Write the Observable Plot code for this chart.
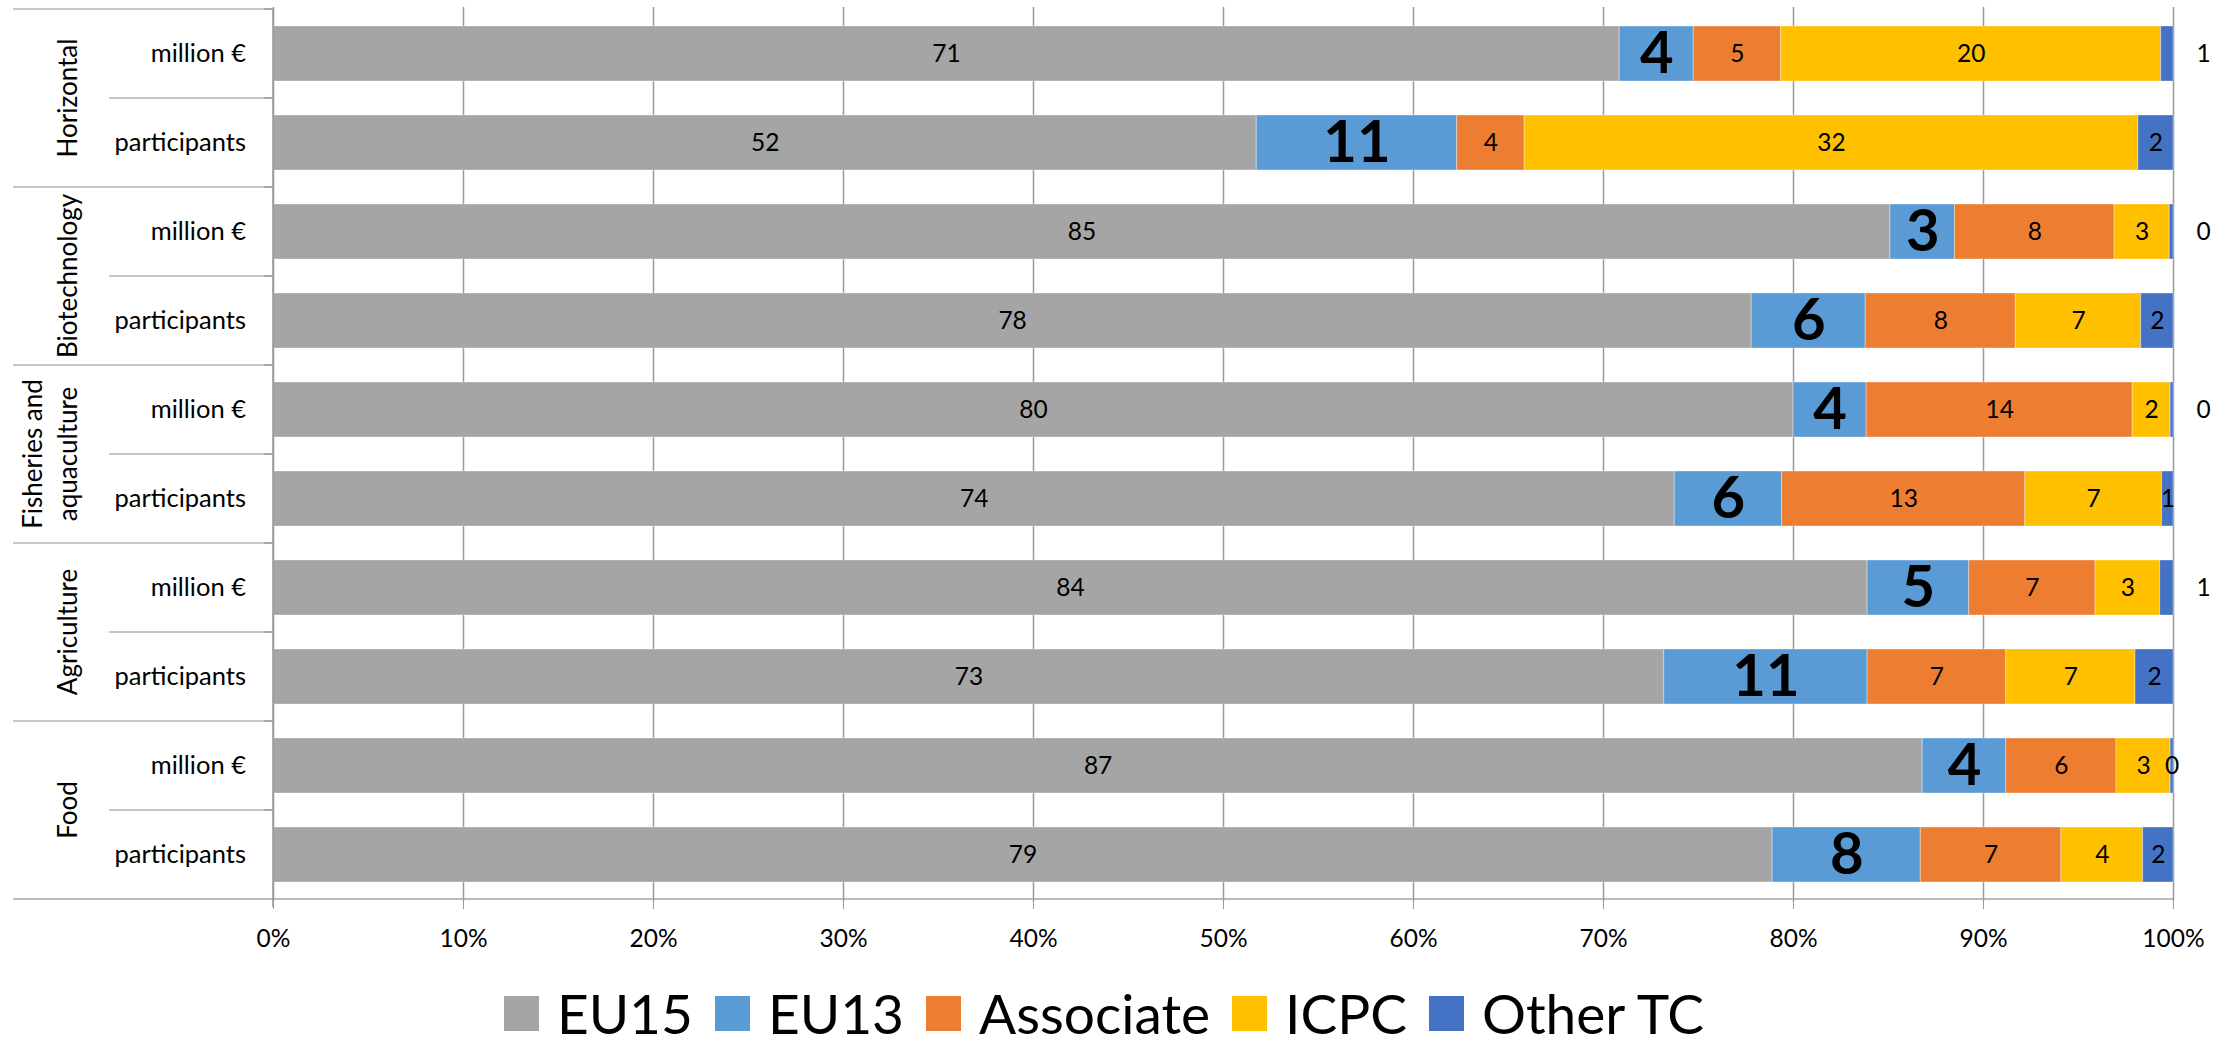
<!DOCTYPE html>
<html>
<head>
<meta charset="utf-8">
<script src="https://cdn.jsdelivr.net/npm/d3@7"></script>
<script src="https://cdn.jsdelivr.net/npm/@observablehq/plot@0.6"></script>
<style>
  html, body { margin: 0; padding: 0; background: #fff; }
  #wrap { position: relative; width: 2236px; height: 1043px; font-family: Lato, "Open Sans", sans-serif; }
  #legend { position: absolute; left: 0; top: 978px; width: 2208px; display: flex; justify-content: center; align-items: center; }
  .item { display: flex; align-items: center; margin: 0 11px; font-size: 55px; line-height: 1.3; color: #000; }
  .sw { width: 35px; height: 35px; margin-right: 18px; display: inline-block; }
</style>
</head>
<body>
<div id="wrap"><div id="chart"></div><div id="legend"></div></div>
<script>
// ---- data (percent shares) ----
const groups = ["Horizontal", "Biotechnology", "Fisheries and aquaculture", "Agriculture", "Food"];
const measures = ["million €", "participants"];
const series = ["EU15", "EU13", "Associate", "ICPC", "Other TC"];
const colors = ["#A5A5A5", "#5B9BD5", "#ED7D31", "#FFC000", "#4472C4"];
// rows: Horizontal m€, Horizontal part., Biotech m€, Biotech part., Fisheries m€, Fisheries part., Agri m€, Agri part., Food m€, Food part.
const EU15      = [70.85, 51.75, 85.1, 77.8, 80.0, 73.75, 83.9, 73.2, 86.8, 78.9];
const EU13      = [3.9, 10.55, 3.4, 6.0, 3.85, 5.65, 5.35, 10.7, 4.4, 7.8];
const Associate = [4.6, 3.55, 8.4, 7.9, 14.0, 12.8, 6.65, 7.3, 5.8, 7.4];
const ICPC      = [20.0, 32.3, 2.9, 6.6, 2.0, 7.2, 3.4, 6.8, 2.85, 4.3];
const OtherTC   = [0.65, 1.85, 0.2, 1.7, 0.15, 0.6, 0.7, 2.0, 0.15, 1.6];
const xTicks = [0, 10, 20, 30, 40, 50, 60, 70, 80, 90, 100];

// ---- derived table ----
const seriesValues = [EU15, EU13, Associate, ICPC, OtherTC];
const rowKeys = [];
groups.forEach(g => measures.forEach(m => rowKeys.push(g + "|" + m)));
// groups whose "million €" Other TC label sits outside the bar end
const outsideGroups = new Set(["Horizontal", "Biotechnology", "Fisheries and aquaculture", "Agriculture"]);

const segs = [];
rowKeys.forEach((key, r) => {
  let acc = 0;
  const [g, m] = key.split("|");
  series.forEach((s, k) => {
    const v = seriesValues[k][r];
    const x1 = acc, x2 = acc + v;
    acc = x2;
    const outside = s === "Other TC" && m === "million €" && outsideGroups.has(g);
    segs.push({row: key, group: g, measure: m, series: s, value: v, x1, x2, mid: (x1 + x2) / 2,
               label: String(Math.round(v)), outside});
  });
});

const FONT = "Lato, 'Open Sans', sans-serif";

function leftColumn(index, scales, values, dimensions) {
  const y = scales.y;
  const bw = y.bandwidth ? y.bandwidth() : 55;
  const step = y.step ? y.step() : (y(rowKeys[1]) - y(rowKeys[0]));
  const pad = (step - bw) / 2;
  const x0 = dimensions.marginLeft;
  const xr = dimensions.width - dimensions.marginRight;
  const xL = 13, xSub = 109;
  const g = d3.create("svg:g").attr("font-family", FONT).attr("fill", "#000");
  const top = y(rowKeys[0]) - pad;
  const bottom = y(rowKeys[rowKeys.length - 1]) + bw + pad;
  groups.forEach((grp) => {
    const yt = y(grp + "|" + measures[0]) - pad;
    g.append("line").attr("x1", xL).attr("x2", x0).attr("y1", yt).attr("y2", yt)
      .attr("stroke", "#b4b4b4").attr("stroke-width", 1.3);
    const ym = y(grp + "|" + measures[1]) - pad;
    g.append("line").attr("x1", xSub).attr("x2", x0).attr("y1", ym).attr("y2", ym)
      .attr("stroke", "#b4b4b4").attr("stroke-width", 1.3);
    g.append("line").attr("x1", x0 - 9).attr("x2", x0).attr("y1", ym).attr("y2", ym)
      .attr("stroke", "#999").attr("stroke-width", 1.3);
    g.append("line").attr("x1", x0 - 9).attr("x2", x0).attr("y1", yt).attr("y2", yt)
      .attr("stroke", "#999").attr("stroke-width", 1.3);
    const yc = (yt + y(grp + "|" + measures[1]) + bw + pad) / 2;
    const lines = grp === "Fisheries and aquaculture" ? ["Fisheries and", "aquaculture"] : [grp];
    lines.forEach((ln, i) => {
      const bx = x0 - 196 - (lines.length - 1 - i) * 35;
      g.append("text").attr("transform", `translate(${bx},${yc}) rotate(-90)`)
        .attr("text-anchor", "middle").attr("font-size", 26).text(ln);
    });
  });
  g.append("line").attr("x1", xL).attr("x2", xr).attr("y1", bottom).attr("y2", bottom)
    .attr("stroke", "#a6a6a6").attr("stroke-width", 1.5);
  g.append("line").attr("x1", x0).attr("x2", x0).attr("y1", top).attr("y2", bottom + 8)
    .attr("stroke", "#999").attr("stroke-width", 1.5);
  rowKeys.forEach((key) => {
    const m = key.split("|")[1];
    g.append("text").attr("x", x0 - 27).attr("y", y(key) + bw / 2).attr("dy", "0.34em")
      .attr("text-anchor", "end").attr("font-size", 25.5).text(m);
  });
  return g.node();
}

const plot = Plot.plot({
  width: 2236,
  height: 965,
  marginLeft: 273,
  marginRight: 63,
  marginTop: 7,
  marginBottom: 64,
  style: {fontFamily: FONT, fontSize: "24px", color: "#111", background: "#fff"},
  x: {domain: [0, 100]},
  y: {domain: rowKeys, paddingInner: 0.385, paddingOuter: 0.1925, axis: null},
  color: {domain: series, range: colors},
  marks: [
    Plot.gridX(xTicks, {stroke: "#999", strokeOpacity: 1, strokeWidth: 1.5}),
    Plot.barX(segs, {x1: "x1", x2: "x2", y: "row", fill: "series", stroke: "#fff", strokeOpacity: 0.35, strokeWidth: 1}),
    Plot.text(segs.filter(d => d.series !== "EU13" && !d.outside), {
      x: "mid", y: "row", text: "label", fontSize: 24.5, fill: "#000"
    }),
    Plot.text(segs.filter(d => d.series === "EU13"), {
      x: "mid", y: "row", text: "label", fontSize: 58, fontWeight: "bold", fill: "#000"
    }),
    Plot.text(segs.filter(d => d.outside), {
      x: () => 100, y: "row", text: "label", dx: 30, fontSize: 24.5, fill: "#000"
    }),
    Plot.axisX(xTicks, {tickFormat: d => d + "%", tickSize: 8, tickPadding: 20, stroke: "#999", fontSize: 24.5, fill: "#000"}),
    leftColumn
  ]
});
document.getElementById("chart").appendChild(plot);

const legend = d3.select("#legend");
series.forEach((s, i) => {
  const it = legend.append("div").attr("class", "item");
  it.append("span").attr("class", "sw").style("background", colors[i]);
  it.append("span").text(s);
});
</script>
</body>
</html>
